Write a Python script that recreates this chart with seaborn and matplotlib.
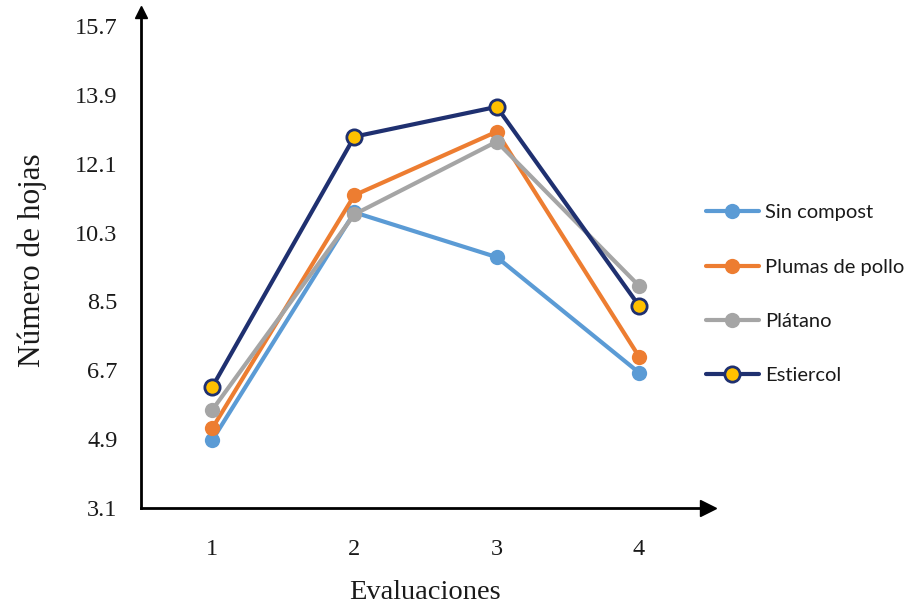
import numpy as np
import pandas as pd
import matplotlib
matplotlib.use("Agg")
import matplotlib.pyplot as plt
import seaborn as sns

# data
evaluaciones = [1, 2, 3, 4]
sin_compost = [4.87, 10.83, 9.66, 6.64]
plumas_pollo = [5.18, 11.28, 12.94, 7.06]
platano = [5.66, 10.78, 12.68, 8.91]
estiercol = [6.26, 12.81, 13.59, 8.39]

series = ["Sin compost", "Plumas de pollo", "Plátano", "Estiercol"]
values = [sin_compost, plumas_pollo, platano, estiercol]
colors = ["#5B9BD5", "#ED7D31", "#A5A5A5", "#1F3070"]
faces = ["#5B9BD5", "#ED7D31", "#A5A5A5", "#FFC000"]

y_ticks = [3.1, 4.9, 6.7, 8.5, 10.3, 12.1, 13.9, 15.7]

sns.set_style("white")
plt.rcParams["font.family"] = ["Liberation Serif", "DejaVu Serif"]

fig = plt.figure(figsize=(9.2, 6.1), dpi=100)
ax = fig.add_axes([141 / 920, 1 - 508 / 610, (708 - 141) / 920, (508 - 12) / 610])

for name, vals, c, fc in zip(series, values, colors, faces):
    df = pd.DataFrame({"x": evaluaciones, "y": vals})
    sns.lineplot(data=df, x="x", y="y", ax=ax, color=c, linewidth=3.0,
                 marker="o", markersize=11, markerfacecolor=fc,
                 markeredgecolor=c, markeredgewidth=2 if fc != c else 0,
                 label=name)

ax.set_xlim(0.5, 4.485)
ax.set_ylim(3.1, 16.07)
ax.set_xticks(evaluaciones)
ax.set_yticks(y_ticks)
ax.set_yticklabels([f"{v:.1f}" for v in y_ticks])

for s in ["top", "right"]:
    ax.spines[s].set_visible(False)
for s in ["left", "bottom"]:
    ax.spines[s].set_color("black")
    ax.spines[s].set_linewidth(2)

# arrow heads on the axes
ax.plot(1, 0, marker=">", color="black", markersize=12, transform=ax.transAxes, clip_on=False)
ax.plot(0, 1, marker="^", color="black", markersize=9, transform=ax.transAxes, clip_on=False)

ax.tick_params(axis="both", direction="in", length=4, width=1, color="black",
               labelsize=17.5, pad=17, labelcolor="#1a1a1a")
ax.tick_params(axis="x", pad=22)

ax.set_xlabel("Evaluaciones", fontsize=20.5, labelpad=15, color="#1a1a1a")
ax.set_ylabel("Número de hojas", fontsize=22.5, labelpad=20, color="#1a1a1a")

ax.get_legend().remove()
handles, labels = ax.get_legend_handles_labels()
leg = fig.legend(handles, labels, loc="upper left", bbox_to_anchor=(0.748, 0.695),
                 frameon=False, handlelength=2.6, handletextpad=0.3,
                 labelspacing=1.85, prop={"family": "Lato", "size": 14.5})
for t in leg.get_texts():
    t.set_color("#1a1a1a")

fig.savefig("out.png", dpi=100)
